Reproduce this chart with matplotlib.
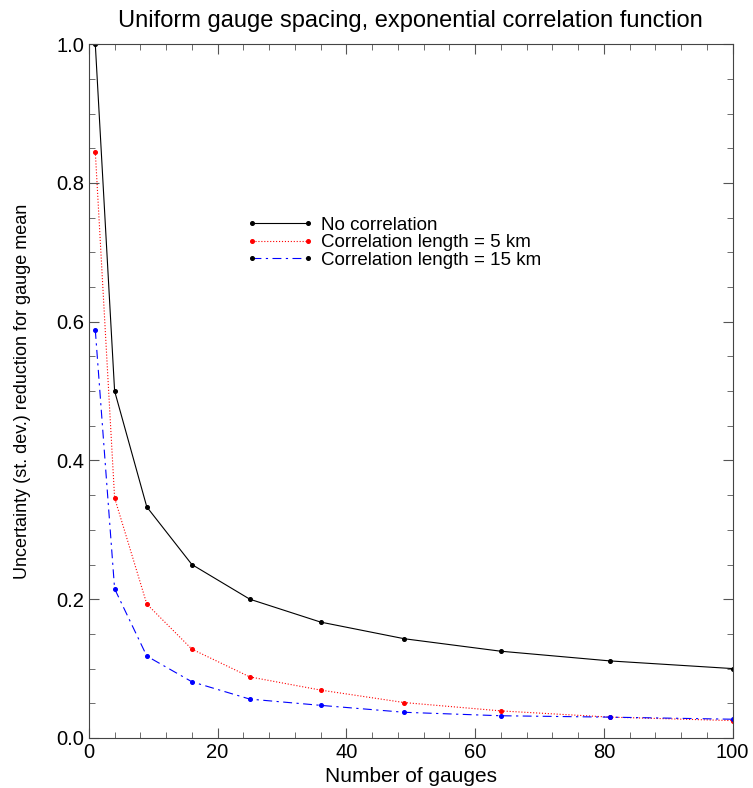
import matplotlib.pyplot as plt
from matplotlib.lines import Line2D
from matplotlib.ticker import MultipleLocator

plt.rcParams['font.family'] = ['Liberation Sans', 'DejaVu Sans']

n_gauges = [1, 4, 9, 16, 25, 36, 49, 64, 81, 100]
no_corr = [1.0, 0.5, 0.333, 0.25, 0.2, 0.167, 0.143, 0.125, 0.111, 0.1]
corr_5km = [0.845, 0.346, 0.193, 0.128, 0.088, 0.069, 0.051, 0.039, 0.030, 0.025]
corr_15km = [0.588, 0.215, 0.118, 0.081, 0.056, 0.047, 0.037, 0.032, 0.030, 0.027]

labels = ['No correlation', 'Correlation length = 5 km', 'Correlation length = 15 km']

fig = plt.figure(figsize=(7.53, 7.88), dpi=100)
ax = fig.add_axes([0.118, 0.0635, 0.855, 0.8805])

dash15 = (0, (8, 4, 2, 4))
ax.plot(n_gauges, no_corr, color='black', lw=0.8, ls='-', marker='o', ms=2.6)
ax.plot(n_gauges, corr_5km, color='red', lw=0.8, ls=':', marker='o', ms=2.6)
ax.plot(n_gauges, corr_15km, color='blue', lw=0.8, ls=dash15, marker='o', ms=2.6)

ax.set_xlim(0, 100)
ax.set_ylim(0, 1.0)
ax.xaxis.set_major_locator(MultipleLocator(20))
ax.xaxis.set_minor_locator(MultipleLocator(4))
ax.yaxis.set_major_locator(MultipleLocator(0.2))
ax.yaxis.set_minor_locator(MultipleLocator(0.05))
ax.yaxis.set_major_formatter(plt.FormatStrFormatter('%.1f'))
ax.tick_params(which='both', direction='in', top=True, right=True, labelsize=14.5, color='#555555')
ax.tick_params(which='major', length=7)
ax.tick_params(which='minor', length=4)
for s in ax.spines.values():
    s.set_color('#444444')

ax.set_title('Uniform gauge spacing, exponential correlation function', fontsize=17, pad=12)
ax.set_xlabel('Number of gauges', fontsize=15, labelpad=4)
ax.set_ylabel('Uncertainty (st. dev.) reduction for gauge mean', fontsize=13, labelpad=18)

handles = [
    Line2D([], [], color='black', lw=0.8, ls='-', marker='o', ms=2.6),
    Line2D([], [], color='red', lw=0.8, ls=':', marker='o', ms=2.6),
    Line2D([], [], color='blue', lw=0.8, ls=dash15, marker='o', ms=2.6,
           markerfacecolor='black', markeredgecolor='black'),
]
ax.legend(handles, labels, loc='upper left', bbox_to_anchor=(0.23, 0.765), frameon=False,
          fontsize=13.5, numpoints=2, handlelength=3.6, handletextpad=0.4,
          labelspacing=0.02, borderpad=0)

fig.savefig('out.png', dpi=100)
